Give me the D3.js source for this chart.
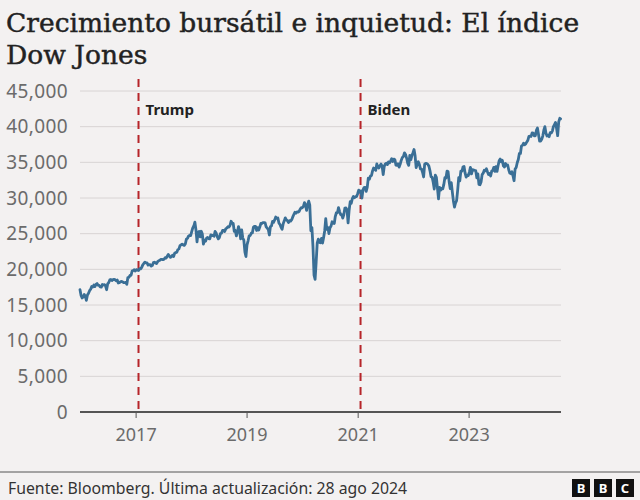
<!DOCTYPE html>
<html>
<head>
<meta charset="utf-8">
<script src="https://cdn.jsdelivr.net/npm/d3@7"></script>
<style>
  html, body { margin: 0; padding: 0; background: #f3f1f1; }
  svg { display: block; }
</style>
</head>
<body>
<svg id="chart" width="640" height="500"></svg>
<script>
// ---- Data (weekly Friday closes, read/estimated from the picture) ----
const title = ["Crecimiento bursátil e inquietud: El índice", "Dow Jones"];
const source = "Fuente: Bloomberg. Última actualización: 28 ago 2024";
const yTicks = [0, 5000, 10000, 15000, 20000, 25000, 30000, 35000, 40000, 45000];
const xTickYears = [2017, 2019, 2021, 2023];
const events = [
  { label: "Trump", date: "2017-01-20" },
  { label: "Biden", date: "2021-01-20" }
];
const dow2016 = [17148,16346,15988,16093,16466,16205,15660,16392,16640,17006,17213,17602,17515,17793,17577,17897,18004,17773,17740,17535,17500,17873,17807,17865,17675,17140,17949,18147,18516,18571,18432,18543,18576,18552,18395,18492,18085,18124,18262,18308,18240,18138,18145,18161,17888,18848,18868,19152,19171,19757,19843,19934,19763];
const dow2017 = [19964,19885,19827,20093,20071,20269,20624,20822,21005,20902,20914,20596,20663,20656,20453,20547,20940,21006,20896,20804,21080,21206,21271,21384,21394,21349,21414,21637,21580,21830,22092,21858,21674,21813,21988,21797,22268,22349,22405,22773,22871,23329,23434,23539,23422,23358,23558,24231,24329,24651,24754,24719];
const dow2018 = [25296,25803,26072,26617,25521,23860,25220,25310,24539,25336,24947,23533,24103,23933,24361,24463,24311,24263,24831,24715,24753,24635,25317,25090,24581,24271,24456,25019,25058,25451,25463,25313,25669,25790,25965,25917,26154,26743,26458,26447,25340,25444,24688,25271,25989,25413,24285,25538,24389,24101,22445,21792];
const dow2019 = [23433,23996,24706,24737,25064,25106,25883,26031,26026,25450,25849,25502,25929,26425,26412,26559,26543,26505,25942,25764,25586,24815,25984,26090,26719,26600,26922,27332,27154,27192,26485,26287,25886,25629,26403,26797,27220,26935,26820,26573,26817,26770,26958,27347,27681,28005,27876,28051,28015,28135,28455,28645];
const dow2020 = [28634,28824,29348,28990,28256,29103,29551,28992,25409,25865,23186,19174,18592,21053,23719,24242,23775,23724,24331,23685,24465,25383,27111,25606,25871,25016,25827,26075,26672,26470,26428,27433,27931,27930,28654,28133,27666,27657,27174,27683,28587,28606,28336,26502,28323,29480,29263,29910,30218,30046,30179,30200];
const dow2021 = [30606,31098,30814,30997,29983,31148,31458,31494,30932,31496,32779,32628,33073,33153,33801,34201,34043,33875,34778,34382,34208,34529,34756,34480,33290,34433,34786,34870,34687,35062,34935,35209,35515,35120,35455,35369,34608,34584,34798,34326,34746,35295,35677,35820,36328,36100,35602,34899,34580,35971,35365,35951,36338];
const dow2022 = [36800,35912,34265,34725,35089,34738,34079,34059,33615,32944,34755,34861,34818,34721,34451,33811,32977,32899,32197,31262,33213,32900,31393,29888,31501,31097,31338,31289,31899,32845,32803,33761,33707,32283,31318,32152,30822,29590,28726,29297,29635,31083,32862,32403,33748,33746,34347,34430,33476,32920,33204,33147];
const dow2023 = [33631,34303,33375,33978,33926,33869,33827,32817,33391,31910,31862,32238,33274,33485,33887,33809,34098,33674,33301,33427,33093,33763,33877,34299,33727,34408,33734,34509,35228,35459,35066,35281,34501,34347,34838,34577,34619,33964,33508,33408,33670,33127,32418,34061,34283,34947,35390,36246,36248,37306,37385,37690];
const dow2024 = [37466,37593,37863,38109,38654,38672,38628,39131,39087,38723,38715,39475,39807,38904,37983,37986,38240,38676,39513,40004,39070,38686,38799,38589,39150,39119,39376,40001,40287,40589,39737,38738,40660,41175];
const lastPoint = { date: "2024-08-28", value: 41091 };

const yearSeries = [
  [2016, dow2016], [2017, dow2017], [2018, dow2018], [2019, dow2019], [2020, dow2020],
  [2021, dow2021], [2022, dow2022], [2023, dow2023], [2024, dow2024]
];

// ---- Build table ----
const parse = d3.timeParse("%Y-%m-%d");
const data = [];
yearSeries.forEach(([yr, vals]) => {
  const fridays = d3.timeFriday.range(new Date(yr, 0, 1), new Date(yr + 1, 0, 1));
  vals.forEach((v, i) => { if (fridays[i]) data.push({ date: fridays[i], value: v }); });
});
data.push({ date: parse(lastPoint.date), value: lastPoint.value });

// ---- Layout ----
const svg = d3.select("#chart");
const W = 640, H = 500;
const plot = { left: 80, right: 561, top: 91, bottom: 412 };

svg.append("rect").attr("width", W).attr("height", H).attr("fill", "#f3f1f1");

const x = d3.scaleTime()
  .domain([new Date(2016, 0, 1), new Date(2024, 7, 31)])
  .range([plot.left, plot.right]);
const y = d3.scaleLinear().domain([0, 45000]).range([plot.bottom, plot.top]);

// Title
svg.append("text")
  .attr("font-family", "'DejaVu Serif', serif")
  .attr("font-size", 26.5)
  .attr("fill", "#222")
  .attr("stroke", "#222").attr("stroke-width", 0.45)
  .selectAll("tspan").data(title).join("tspan")
  .attr("x", 6)
  .attr("y", (d, i) => 32 + i * 32)
  .text(d => d);

// Gridlines
svg.append("g").selectAll("line")
  .data(yTicks.filter(d => d > 0)).join("line")
  .attr("x1", plot.left).attr("x2", plot.right)
  .attr("y1", d => y(d)).attr("y2", d => y(d))
  .attr("stroke", "#d8d4d4").attr("stroke-width", 1);

// Y axis labels
const yAxis = d3.axisLeft(y).tickValues(yTicks).tickSize(0).tickPadding(0)
  .tickFormat(d3.format(","));
const gy = svg.append("g").attr("transform", `translate(${68},0)`).call(yAxis);
gy.select(".domain").remove();
gy.selectAll("text")
  .attr("font-family", "'Noto Sans', sans-serif")
  .attr("font-size", 19)
  .attr("letter-spacing", 0.4)
  .attr("fill", "#6b6b6b");

// X axis
const xAxis = d3.axisBottom(x)
  .tickValues(xTickYears.map(yr => new Date(yr, 0, 1)))
  .tickSize(6).tickPadding(10)
  .tickFormat(d3.timeFormat("%Y"));
const gx = svg.append("g").attr("transform", `translate(0,${plot.bottom})`).call(xAxis);
gx.select(".domain").remove();
gx.selectAll(".tick line").attr("stroke", "#555").attr("stroke-width", 1);
gx.selectAll("text")
  .attr("font-family", "'Noto Sans', sans-serif")
  .attr("font-size", 18)
  .attr("fill", "#6b6b6b");

// Event lines
events.forEach(ev => {
  const ex = x(parse(ev.date));
  svg.append("line")
    .attr("x1", ex).attr("x2", ex)
    .attr("y1", 79).attr("y2", plot.bottom)
    .attr("stroke", "#b6252a").attr("stroke-width", 2)
    .attr("stroke-dasharray", "8,6");
  svg.append("text")
    .attr("x", ex + 7).attr("y", 115)
    .attr("font-family", "'Noto Sans', sans-serif")
    .attr("font-size", 15).attr("font-weight", "bold")
    .attr("fill", "#222")
    .text(ev.label);
});

// Zero baseline
svg.append("line")
  .attr("x1", plot.left).attr("x2", plot.right)
  .attr("y1", y(0)).attr("y2", y(0))
  .attr("stroke", "#555").attr("stroke-width", 2);

// Series line
const line = d3.line().x(d => x(d.date)).y(d => y(d.value)).curve(d3.curveLinear);
svg.append("path")
  .datum(data)
  .attr("d", line)
  .attr("fill", "none")
  .attr("stroke", "#3a6f96")
  .attr("stroke-width", 2.8)
  .attr("stroke-linejoin", "round")
  .attr("stroke-linecap", "round");

// Footer
svg.append("line")
  .attr("x1", 0).attr("x2", W).attr("y1", 472).attr("y2", 472)
  .attr("stroke", "#555").attr("stroke-width", 1);
svg.append("text")
  .attr("x", 8).attr("y", 494)
  .attr("font-family", "'Noto Sans', sans-serif")
  .attr("font-size", 15.8).attr("fill", "#333")
  .text(source);

const logo = svg.append("g").attr("transform", "translate(572,479)");
["B", "B", "C"].forEach((ch, i) => {
  logo.append("rect").attr("x", i * 22).attr("y", 0).attr("width", 18).attr("height", 18).attr("fill", "#111");
  logo.append("text").attr("x", i * 22 + 9).attr("y", 14)
    .attr("text-anchor", "middle")
    .attr("font-family", "'Noto Sans', sans-serif").attr("font-weight", "bold")
    .attr("font-size", 13).attr("fill", "#fff").text(ch);
});
</script>
</body>
</html>
